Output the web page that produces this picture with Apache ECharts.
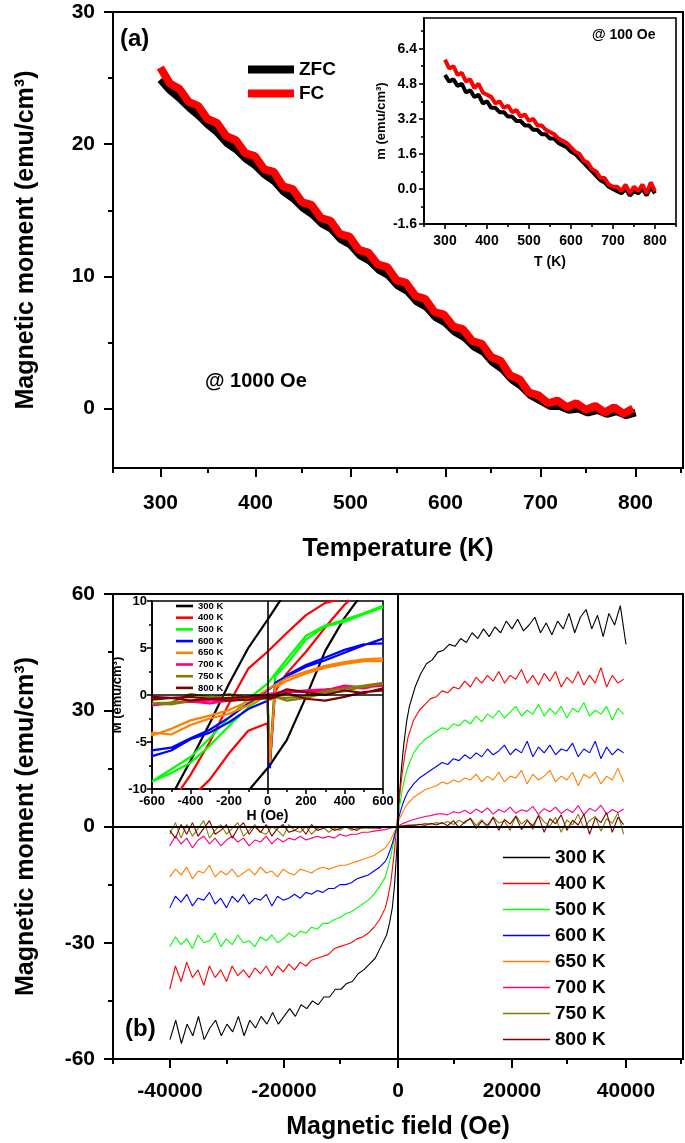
<!DOCTYPE html>
<html><head><meta charset="utf-8">
<script src="https://cdn.jsdelivr.net/npm/echarts@6/dist/echarts.min.js"></script>
<style>html,body{margin:0;padding:0;background:#fff}#c{width:685px;height:1143px}</style>
</head><body><div id="c"></div>
<script>
const FONT = '"Liberation Sans", Arial, Helvetica, sans-serif';

// ---------- (a) ZFC / FC at 1000 Oe ----------
const tempK = [300,310,320,330,340,350,360,370,380,390,400,410,420,430,440,450,460,470,480,490,500,510,520,530,540,550,560,570,580,590,600,610,620,630,640,650,660,670,680,690,700,710,720,730,740,750,760,770,780,790,800];
const zfc1000 = [24.9,24.1,23.5,22.8,22.2,21.5,20.9,20.1,19.6,18.9,18.4,17.7,17.2,16.4,15.9,15.2,14.7,14.0,13.6,12.8,12.4,11.6,11.2,10.5,10.1,9.3,8.9,8.1,7.7,6.9,6.5,5.8,5.4,4.7,4.3,3.5,3.0,2.2,1.7,1.0,0.6,0.2,0.2,-0.1,0.0,-0.3,-0.1,-0.4,-0.2,-0.5,-0.3];
const fc1000 = [25.8,24.6,24.2,23.2,22.9,21.9,21.6,20.6,20.3,19.3,19.1,18.1,17.9,16.8,16.6,15.6,15.4,14.4,14.2,13.2,13.0,12.0,11.8,10.9,10.7,9.7,9.5,8.5,8.3,7.3,7.1,6.2,6.0,5.1,4.9,3.9,3.6,2.5,2.2,1.2,1.0,0.4,0.6,0.1,0.4,-0.1,0.2,-0.3,0.1,-0.4,0.0];
// inset: 100 Oe
const zfc100 = [5.2,4.9,5.0,4.7,4.8,4.4,4.5,4.2,4.3,3.9,4.0,3.7,3.7,3.5,3.5,3.3,3.3,3.1,3.1,2.9,2.9,2.7,2.7,2.5,2.5,2.3,2.3,2.1,2.0,1.9,1.7,1.6,1.4,1.2,1.0,0.8,0.6,0.4,0.3,0.1,0.0,-0.1,-0.2,0.0,-0.3,-0.1,-0.2,0.0,-0.3,0.1,-0.2];
const fc100 = [5.9,5.5,5.6,5.2,5.3,4.9,5.0,4.6,4.8,4.4,4.3,4.2,3.9,4.0,3.7,3.8,3.5,3.6,3.3,3.4,3.1,3.2,2.9,2.9,2.7,2.6,2.5,2.3,2.2,2.1,1.9,1.7,1.6,1.3,1.2,0.9,0.8,0.5,0.5,0.2,0.1,0.1,-0.1,0.2,-0.2,0.1,-0.1,0.2,-0.2,0.3,-0.1];

const tickA_major = [300,400,500,600,700,800];
const tickA_minor = [250,350,450,550,650,750,850];
const tickA_y = [0,10,20,30];
const tickA_yminor = [5,15,25];
const tickInset_y = [-1.6,0,1.6,3.2,4.8,6.4];
const tickInset_yminor = [-0.8,0.8,2.4,4.0,5.6,7.2];

// ---------- (b) M-H loops ----------
const tempNames = ['300 K','400 K','500 K','600 K','650 K','700 K','750 K','800 K'];
const colors = ['#000000','#ff0000','#00ff00','#0000ff','#ff8000','#ff0080','#808000','#800000'];
const fieldOe = [-40000,-39000,-38000,-37000,-36000,-35000,-34000,-33000,-32000,-31000,-30000,-29000,-28000,-27000,-26000,-25000,-24000,-23000,-22000,-21000,-20000,-19000,-18000,-17000,-16000,-15000,-14000,-13000,-12000,-11000,-10000,-9000,-8000,-7000,-6000,-5000,-4000,-3000,-2000,-1500,-1000,-600,-300,0,300,600,1000,1500,2000,3000,4000,5000,6000,7000,8000,9000,10000,11000,12000,13000,14000,15000,16000,17000,18000,19000,20000,21000,22000,23000,24000,25000,26000,27000,28000,29000,30000,31000,32000,33000,34000,35000,36000,37000,38000,39000,40000];
const m300 = [-55,-50,-56,-51,-54,-49,-55,-52,-50,-54,-51,-53,-49,-54,-50,-52,-49,-51,-48,-51,-49,-47,-49,-46,-47,-45,-46,-44,-44,-42,-42,-40.5,-40,-38,-37,-35.5,-34,-31,-28,
  -25,-21,-15,-8,0,9,15,21,27,
  31,36,39.5,42,43,45,45.5,47,46.5,48.5,47.5,50,48.5,51,49,51.5,50,53,51,53.5,50.5,52,54,50,52.5,49.5,53,51,55,50,54,56,51,54.5,49,55,52,57,47];
const m400 = [-42,-36,-40,-35,-39,-37,-41,-36,-39,-37,-40,-36,-38.5,-37,-39,-36.5,-38,-36,-38.5,-36,-37.5,-35.5,-37,-35,-36,-34.5,-34,-33.5,-33,-31.5,-31,-30.5,-30,-29,-28.5,-27.5,-26,-24,-21,
  -18,-14,-9,-5,0,5,9,14,19,
  23,27.5,30,31.5,33,33.5,35,34.5,36,35.5,37.5,36,38.5,37,39,37.5,40,37,39,38,40.5,37,39,36.5,39.5,37.5,40,36,38.5,37,40,36.5,39,37,41,36,39,37,38];
const m500 = [-31,-28.5,-30.5,-29,-31.5,-28,-30,-29.5,-27.5,-31,-29,-30.5,-28,-30,-29.5,-31,-28.5,-29.5,-28,-30,-29,-27.5,-28.5,-27,-27.5,-26,-26.5,-25,-25,-24,-23.5,-22.5,-22,-21,-20,-19,-17.5,-15.5,-13,
  -10.5,-7.5,-4.5,-2.2,0,3.5,6,9.5,13,
  15.5,19,21,22.5,23.5,24.5,25.5,25,26.5,26,27.5,26.5,28.5,27,29,28,30,28,29.5,31,28.5,30,29,31.5,28.5,30.5,29,31,28,30.5,29.5,32,28.5,30,29,31,27.5,30.5,29];
const m600 = [-21,-18,-19.5,-17.5,-20.5,-18.5,-19,-17,-20,-18.5,-21,-18,-19.5,-17.5,-20,-18.5,-19,-17.5,-20.5,-18,-19,-18.5,-17.5,-18.5,-17,-17.5,-16.5,-17,-16,-16,-15,-15,-14.5,-13.5,-13,-12.5,-11.5,-10.5,-9,
  -7.5,-5.5,-3.5,-1.8,0,2,3.5,5.5,7.5,
  9,11,12.5,13.5,14.5,15.5,16.5,16,17.5,17,18.5,17.5,19,18,20,18.5,19.5,21,18.5,20,19,22,18,20.5,19,21,18.5,20,19.5,21.5,18,20,19,22,17.5,20.5,18.5,20,19];
const m650 = [-13,-11,-12.5,-10.5,-13.5,-11.5,-12,-10,-13,-11.5,-12.5,-11,-13,-12,-11,-12.5,-10.5,-12,-11.5,-13,-11,-12,-12.5,-11,-11.5,-12,-11,-10.5,-11,-10.5,-10,-10,-9.5,-9,-8.5,-8,-7.5,-6.5,-5.5,
  -4.5,-3.3,-2,-1,0,1.2,2.3,3.5,5,
  6,7.5,8.5,9.5,10,10.5,11.5,11,12,11.5,12.5,12,13.5,11.5,13,12,14,11.5,13,12.5,14.5,11,13.5,12,13,14.5,11.5,13,12,14,10.5,13.5,12.5,14,11,13,12,15,11.5];
const m700 = [-5,-2.5,-4.5,-3,-5.5,-3.5,-2.5,-4.5,-3,-5,-3.5,-2.5,-4,-3,-5,-3.5,-4,-2.5,-4.5,-3,-4,-3,-3.5,-2.5,-3.5,-3,-2.5,-3,-2.5,-3,-2,-2.5,-2,-2,-1.5,-1.5,-1.2,-1,-0.8,
  -0.6,-0.4,-0.3,-0.1,0,0.2,0.4,0.7,1,
  1.3,1.8,2.2,2.6,2.8,3.2,3.3,3,3.8,3.5,4.2,3.3,4.5,3.6,4.8,3.2,4.4,3.7,5,3.4,4.3,3.9,5.2,3.1,4.6,3.8,5,3.3,4.5,3.6,5.4,3,4.7,3.9,5.5,3.2,4.4,3.6,4.5];
const m750 = [-2,1,-3,0.5,-2.5,-0.5,1.5,-3,-1,0.5,-2,-0.5,1,-2.5,-1,0.5,-1.5,-2,0,-1,-2.5,0.5,-1,-1.5,0,-2,-0.5,0,-1.5,-0.5,-1,0,-1,-0.5,-0.5,-0.3,-0.6,-0.2,-0.3,
  -0.2,-0.1,-0.1,0,0,0.1,0.1,0.2,0.3,
  0.3,0.5,0.4,0.8,0.6,1,0.7,1.3,0.5,1.6,0.8,2.2,0.3,1.8,-0.5,2.5,0.9,1.4,-1,2.8,0.6,1.9,-0.8,3,1.2,0.1,2.4,-1.5,1.7,0.4,3.2,-0.5,1.5,2.6,-1.2,2,0.8,3.5,-2];
const m800 = [-1,-3,0.5,-2,1,-2.5,-0.5,1.5,-2,-1,0.5,-3,-0.5,1,-2,0,-1.5,0.5,-2.5,-0.5,0.5,-1.5,-1,0,-2,0.5,-1,-0.5,0,-1,-0.5,0,-0.5,-1,0,-0.4,-0.2,-0.5,0,
  -0.1,0,-0.1,0,0,0,0.1,0.1,0.2,
  0.3,0.2,0.6,0.3,0.8,0.4,1,0.2,1.5,-0.3,1.2,2,-0.5,1.4,0.3,2.3,-1,1.8,0.6,2.6,-0.8,1.5,0.2,2.8,-1.5,2,0.7,3,-1,1.6,0.4,3.2,-2,2.2,1,3.6,-1.5,2.4,0.5];
const mainM = [m300,m400,m500,m600,m650,m700,m750,m800];

// inset (b): low-field loops, descending branch then ascending branch
const loopH = [600,500,400,300,200,100,0,-100,-200,-300,-400,-500,-600,
               -600,-500,-400,-300,-200,-100,0,12,40,100,200,300,400,500,600];
const loop300 = [23,21,19,16.5,14,11.1,8.0,5.0,1.2,-3.0,-7.0,-10.8,-14, -23,-21,-19,-16.5,-14,-10.2,-7.8,-7.5,-6.6,-4.8,-0.2,4.7,8.2,11,14];
const loop400 = [11.5,10.8,10.3,9.8,8.5,6.6,4.6,2.8,-0.9,-5.0,-8.5,-11.5,-13, -13,-12.3,-11,-9,-6.2,-3.8,-3.0,-7.4,0.4,2.3,4.6,7.2,9.6,11.5,12.5];
const loop500 = [9.5,8.7,8.0,7.4,6.3,3.8,1.2,-0.4,-2.4,-4.6,-6.6,-7.9,-9.2, -9.4,-8.3,-7.2,-5.4,-3.3,-1.3,0.0,-7.0,2.0,3.3,5.9,7.3,7.8,8.6,9.3];
const loop600 = [5.5,5.4,4.8,4.0,3.2,2.1,0.5,-0.9,-2.4,-3.7,-4.6,-5.6,-5.9, -6.5,-5.9,-4.7,-4.0,-2.9,-1.5,-0.6,-7.8,1.3,2.0,3.0,3.7,4.5,5.3,6.0];
const loop650 = [3.9,3.8,3.5,3.1,2.5,1.8,0.6,-0.7,-1.6,-2.2,-2.7,-3.6,-4.3, -4.0,-4.2,-3.2,-2.5,-2.0,-1.1,0.0,-7.2,0.8,1.5,2.3,2.9,3.3,3.6,3.6];
const loop700 = [1.0,0.8,1.0,0.5,0.3,0.4,0.1,-0.2,-0.5,-0.6,-0.7,-0.9,-1.1, -1.0,-0.8,-0.7,-0.9,-0.6,-0.4,-0.2,-0.3,0.0,0.3,0.5,0.6,0.8,0.7,1.1];
const loop750 = [1.3,1.0,0.7,0.4,-0.1,-0.3,-0.2,-0.4,-0.6,-0.2,0.1,-0.8,-0.9, -0.8,-1.0,-0.6,-0.3,0.1,-0.3,-0.4,-0.5,-0.2,-0.6,-0.3,0.2,0.4,0.9,1.2];
const loop800 = [0.7,0.2,0.5,0.0,0.3,0.6,-0.3,-0.5,-0.6,-0.4,-0.2,-0.3,-0.2, -0.5,-0.3,-0.6,-0.4,-0.3,-0.2,-0.1,-0.4,-0.2,0.2,-0.4,-0.6,-0.2,0.3,0.5];
const loops = [loop300,loop400,loop500,loop600,loop650,loop700,loop750,loop800];

const tickB_x = [-40000,-20000,0,20000,40000];
const tickB_xminor = [-50000,-30000,-10000,10000,30000,50000];
const tickB_yminor = [-45,-15,15,45];

// ---------- build ----------
const zip = (xs, ys) => xs.map((x, i) => [x, ys[i]]);
const bold = (size) => ({fontFamily: FONT, fontWeight: 'bold', fontSize: size, color: '#000'});

function axis(o) {
  const a = {
    type: 'value', gridIndex: o.grid, min: o.min, max: o.max, position: o.pos,
    axisLine: {show: true, onZero: false, lineStyle: {color: '#000', width: o.lw || 2}},
    axisTick: {show: true, length: o.tl, lineStyle: {color: '#000', width: o.lw || 2}},
    axisLabel: {show: true, margin: o.margin || 8, ...bold(o.fs || 12), formatter: o.fmt || (v => String(v))},
    splitLine: {show: false}
  };
  if (o.ticks) a.axisTick.customValues = o.ticks;
  if (o.labels) a.axisLabel.customValues = o.labels;
  if (o.minorOnly) a.axisLabel.formatter = () => ' ';
  if (o.interval) a.interval = o.interval;
  if (o.minor) a.minorTick = {show: true, splitNumber: 2, length: o.minor, lineStyle: {color: '#000', width: o.lw || 2}};
  if (o.name) {
    a.name = o.name; a.nameLocation = 'middle'; a.nameGap = o.nameGap;
    a.nameTextStyle = bold(o.nfs);
  }
  return a;
}

const rectA = {left: 113, top: 12, width: 570, height: 456};
const rectAi = {left: 424, top: 18, width: 252, height: 206};
const rectB = {left: 113, top: 594, width: 570, height: 465};
const rectBi = {left: 152, top: 601, width: 231, height: 188};
const framed = (r, w) => Object.assign({}, r, {show: true, borderColor: '#000', borderWidth: w, backgroundColor: '#fff'});
const bare = (r) => Object.assign({}, r, {show: false});
const grids = [
  framed(rectA, 2),    // 0 main (a)
  framed(rectAi, 1.6), // 1 inset (a)
  framed(rectB, 2),    // 2 main (b)
  framed(rectBi, 1.6), // 3 inset (b)
  bare(rectA),         // 4 same frame as 0, minor ticks
  bare(rectAi),        // 5 same frame as 1, minor ticks
  bare(rectB)          // 6 same frame as 2, minor ticks
];

const xAxes = [
  axis({grid: 0, min: 250, max: 850, pos: 'bottom', tl: 9, ticks: tickA_major, labels: tickA_major, fs: 21, margin: 25, name: 'Temperature (K)', nameGap: 69, nfs: 25}),
  axis({grid: 1, min: 250, max: 850, pos: 'bottom', tl: 5, lw: 1.6, ticks: tickA_major, labels: tickA_major, fs: 14, margin: 10, name: 'T (K)', nameGap: 31, nfs: 14}),
  axis({grid: 2, min: -50000, max: 50000, pos: 'bottom', tl: 9, ticks: tickB_x, labels: tickB_x, fs: 21, margin: 22, name: 'Magnetic field (Oe)', nameGap: 56, nfs: 25}),
  axis({grid: 3, min: -600, max: 600, pos: 'bottom', tl: 5, lw: 1.6, interval: 200, minor: 3, fs: 13, margin: 6, name: 'H (Oe)', nameGap: 20, nfs: 14}),
  axis({grid: 4, min: 250, max: 850, pos: 'bottom', tl: 5, ticks: tickA_minor, labels: tickA_minor, minorOnly: true}),
  axis({grid: 5, min: 250, max: 850, pos: 'bottom', tl: 3, lw: 1.6, ticks: tickA_minor, labels: tickA_minor, minorOnly: true}),
  axis({grid: 6, min: -50000, max: 50000, pos: 'bottom', tl: 5, ticks: tickB_xminor, labels: tickB_xminor, minorOnly: true})
];
const yAxes = [
  axis({grid: 0, min: -4.5, max: 30, pos: 'left', tl: 9, ticks: tickA_y, labels: tickA_y, fs: 21, margin: 18, name: 'Magnetic moment (emu/cm³)', nameGap: 74, nfs: 25}),
  axis({grid: 1, min: -1.6, max: 7.8, pos: 'left', tl: 5, lw: 1.6, ticks: tickInset_y, labels: tickInset_y, fs: 14, margin: 7, fmt: v => Number(v).toFixed(1), name: 'm (emu/cm³)', nameGap: 36, nfs: 13}),
  axis({grid: 2, min: -60, max: 60, pos: 'left', tl: 9, interval: 30, fs: 21, margin: 18, name: 'Magnetic moment (emu/cm³)', nameGap: 74, nfs: 25}),
  axis({grid: 3, min: -10, max: 10, pos: 'left', tl: 5, lw: 1.6, interval: 5, minor: 3, fs: 13, margin: 5, name: 'M (emu/cm³)', nameGap: 16, nfs: 13}),
  axis({grid: 4, min: -4.5, max: 30, pos: 'left', tl: 5, ticks: tickA_yminor, labels: tickA_yminor, minorOnly: true}),
  axis({grid: 5, min: -1.6, max: 7.8, pos: 'left', tl: 3, lw: 1.6, ticks: tickInset_yminor, labels: tickInset_yminor, minorOnly: true}),
  axis({grid: 6, min: -60, max: 60, pos: 'left', tl: 5, ticks: tickB_yminor, labels: tickB_yminor, minorOnly: true})
];

const zeroLines = (w) => ({
  silent: true, symbol: ['none', 'none'], label: {show: false}, animation: false,
  lineStyle: {type: 'solid', color: '#000', width: w},
  data: [{xAxis: 0}, {yAxis: 0}]
});

const series = [];
const line = (name, xi, yi, data, color, width, extra) => Object.assign({
  type: 'line', name, xAxisIndex: xi, yAxisIndex: yi, data, symbol: 'none', clip: true,
  lineStyle: {color, width}, itemStyle: {color}, animation: false, emphasis: {disabled: true}
}, extra || {});

series.push(line('ZFC', 0, 0, zip(tempK, zfc1000), '#000', 8));
series.push(line('FC', 4, 4, zip(tempK, fc1000), '#ff0000', 8));
series.push(line('ZFC ', 1, 1, zip(tempK, zfc100), '#000', 4));
series.push(line('FC ', 5, 5, zip(tempK, fc100), '#ff0000', 4));
tempNames.forEach((n, i) => {
  const ax = i === 0 ? 2 : 6;
  series.push(line(n, ax, ax, zip(fieldOe, mainM[i]), colors[i], 1.1, i === 0 ? {markLine: zeroLines(2)} : null));
});
tempNames.forEach((n, i) => {
  series.push(line(n + ' ', 3, 3, zip(loopH, loops[i]), colors[i], 2.2, i === 0 ? {markLine: zeroLines(1.6)} : null));
});

const option = {
  backgroundColor: '#fff',
  animation: false,
  grid: grids,
  xAxis: xAxes,
  yAxis: yAxes,
  legend: [
    {data: ['ZFC', 'FC'], orient: 'vertical', left: 243, top: 55, itemWidth: 46, itemHeight: 8, itemGap: 5, icon: 'rect',
     selectedMode: false, textStyle: bold(19)},
    {data: tempNames, orient: 'vertical', left: 498, top: 843, itemWidth: 47, itemHeight: 1.3, itemGap: 7, icon: 'rect',
     selectedMode: false, textStyle: Object.assign(bold(19), {lineHeight: 19})},
    {data: tempNames.map(n => n + ' '), orient: 'vertical', left: 171, top: 596, itemWidth: 17, itemHeight: 2.6, itemGap: 1.7, icon: 'rect',
     selectedMode: false, textStyle: Object.assign(bold(9.5), {lineHeight: 10})}
  ],
  graphic: [
    {type: 'text', left: 120, top: 27, style: {text: '(a)', font: 'bold 24px ' + FONT, fill: '#000'}},
    {type: 'text', left: 205, top: 371, style: {text: '@ 1000 Oe', font: 'bold 20px ' + FONT, fill: '#000'}},
    {type: 'text', left: 592, top: 28, style: {text: '@ 100 Oe', font: 'bold 14px ' + FONT, fill: '#000'}},
    {type: 'text', left: 125, top: 1017, style: {text: '(b)', font: 'bold 24px ' + FONT, fill: '#000'}}
  ],
  series
};

const chart = echarts.init(document.getElementById('c'), null, {renderer: 'canvas'});
chart.setOption(option);
</script>
</body></html>
